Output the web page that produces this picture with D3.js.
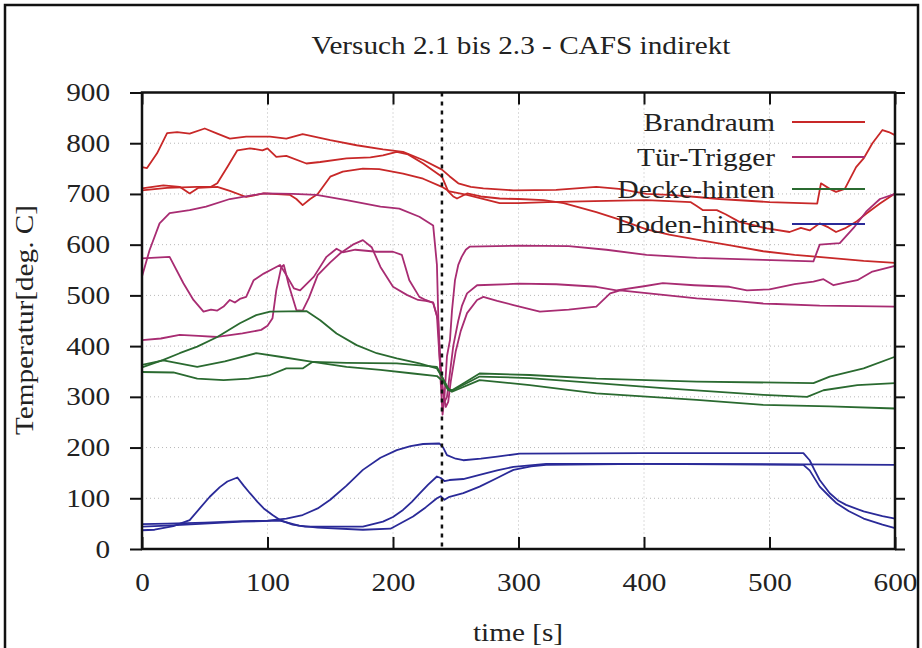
<!DOCTYPE html>
<html><head><meta charset="utf-8">
<script src="https://cdn.jsdelivr.net/npm/d3@7"></script>
<style>body{margin:0;background:#fff}svg{display:block}text{font-family:"Liberation Serif","DejaVu Serif",serif;fill:#222}</style>
</head><body><svg id="c" width="922" height="648"></svg>
<script>
const titleText = "Versuch 2.1 bis 2.3 - CAFS indirekt";
const xLabel = "time [s]";
const yLabel = "Temperatur[deg. C]";
const xTicks = [0,100,200,300,400,500,600];
const yTicks = [0,100,200,300,400,500,600,700,800,900];
const markerTime = 239;
const categories = ["Brandraum","Tür-Trigger","Decke-hinten","Boden-hinten"];

const brandraum1 = [[0,753],[4,751],[12,780],[20,820],[28,822],[38,819],[50,829],[60,819],[70,809],[83,813],[102,813],[115,809],[128,818],[150,806],[171,796],[192,788],[208,783],[224,767],[239,748],[245,735],[252,721],[262,714],[272,711],[296,707],[330,708],[362,714],[380,710],[402,700],[420,698],[442,694],[460,690],[500,684],[538,681],[541,721],[548,710],[553,704],[560,710],[569,753],[575,770],[582,800],[590,826],[595,822],[600,816]];
const brandraum2 = [[0,707],[20,712],[44,714],[55,714],[60,721],[68,753],[76,786],[86,790],[96,786],[100,790],[107,773],[115,775],[131,760],[142,763],[163,770],[182,772],[192,776],[203,783],[212,778],[224,760],[239,734],[244,705],[248,695],[251,691],[259,701],[270,695],[285,691],[300,690],[320,688],[336,682],[362,664],[380,650],[402,630],[420,620],[442,610],[470,598],[495,587],[520,580],[548,574],[575,568],[600,564]];
const brandraum3 = [[0,711],[17,717],[30,714],[38,701],[45,712],[60,714],[70,706],[83,694],[97,701],[118,698],[123,690],[128,678],[134,690],[140,700],[150,734],[160,744],[176,750],[189,749],[208,740],[224,730],[239,714],[245,705],[259,698],[285,682],[300,682],[323,684],[360,686],[402,688],[420,686],[437,684],[442,676],[447,668],[458,668],[465,660],[476,645],[498,632],[516,625],[525,633],[532,628],[540,642],[547,634],[553,625],[560,632],[569,645],[577,661],[588,681],[600,701]];

const tuer1 = [[0,537],[6,589],[14,642],[22,662],[38,668],[51,675],[70,690],[97,701],[120,700],[139,698],[163,688],[190,675],[205,671],[221,655],[232,638],[235,560],[236.5,420],[238,330],[239.5,265],[241,300],[243,380],[245.4,412],[247,470],[249.4,530],[252,560],[254.7,576],[258,590],[261,596],[300,598],[340,597],[370,590],[402,580],[442,574],[495,570],[535,567],[540,600],[556,603],[567,633],[577,665],[588,690],[600,700]];
const tuer2 = [[0,573],[22,576],[33,524],[41,491],[49,468],[55,472],[60,470],[65,478],[70,491],[74,486],[78,493],[83,497],[89,530],[97,543],[104,552],[110,560],[115,540],[121,514],[126,510],[137,537],[147,576],[155,592],[160,585],[170,590],[187,586],[200,586],[207,580],[213,530],[221,497],[226,491],[232,485],[235,460],[237,380],[239,320],[241,290],[243,300],[245,340],[248,400],[252,450],[255,480],[259,504],[267,520],[300,523],[330,522],[362,517],[378,510],[400,518],[415,524],[440,520],[468,517],[482,510],[500,512],[520,522],[535,527],[543,532],[551,520],[560,525],[570,530],[582,547],[600,558]];
const tuer3 = [[0,412],[15,415],[30,422],[45,420],[60,418],[80,425],[95,432],[100,440],[104,455],[107,510],[111,556],[113,560],[117,520],[123,471],[128,470],[133,495],[140,540],[150,565],[158,583],[168,600],[176,609],[183,595],[190,556],[200,517],[211,501],[220,491],[226,489],[232,486],[236,450],[238,360],[240,310],[242,280],[244,290],[246,330],[250,390],[254,430],[259,465],[267,491],[272,497],[276,494],[283,489],[296,481],[317,468],[340,472],[362,478],[373,504],[381,510],[400,505],[442,494],[476,488],[495,484],[540,480],[600,478]];

const decke1 = [[0,358],[17,373],[30,386],[44,399],[60,418],[78,445],[91,461],[102,468],[131,469],[142,451],[155,425],[171,402],[187,386],[203,376],[221,366],[235,356],[240,335],[244,315],[247,313],[255,325],[269,346],[309,343],[362,336],[442,330],[535,327],[548,340],[575,356],[600,379]];
const decke2 = [[0,363],[17,372],[44,359],[66,370],[91,386],[110,379],[136,369],[163,359],[190,353],[216,346],[235,341],[240,330],[244,313],[247,312],[269,340],[309,337],[362,327],[415,317],[495,304],[530,300],[543,313],[570,323],[600,327]];
const decke3 = [[0,349],[25,348],[44,336],[65,333],[85,336],[102,343],[115,356],[128,356],[136,369],[163,367],[203,366],[235,359],[240,335],[244,316],[247,310],[269,333],[309,323],[362,307],[442,294],[495,284],[548,281],[600,277]];

const boden1 = [[0,37],[10,38],[25,45],[38,57],[46,80],[54,103],[62,122],[68,133],[76,141],[81,125],[86,110],[92,93],[97,80],[104,67],[110,57],[120,48],[130,44],[150,44],[176,44],[192,54],[200,63],[208,77],[215,93],[221.5,110],[228,127],[235,143],[238,140],[241,134],[245,136],[256,138],[269,146],[283,155],[296,162],[322,168],[400,168],[527,166],[532,155],[540,123],[548,103],[553.5,90],[563,75],[575,60],[590,48],[600,41]];
const boden2 = [[0,49],[20,50],[50,52],[80,55],[100,56],[115,60],[128,67],[140,80],[150,97],[163,125],[176,156],[190,180],[203,195],[214,203],[224,207],[237,208],[240,200],[243,185],[250,178],[256,175],[270,178],[283,182],[301,188],[400,189],[527,189],[532,175],[536,155],[540,136],[548,110],[555,95],[561,87],[575,74],[590,65],[600,60]];
const boden3 = [[0,44],[20,46],[50,50],[80,54],[110,56],[125,46],[140,42],[176,38],[198,40],[216,64],[226,82],[235,100],[238,104],[241,97],[245,103],[256,110],[269,123],[283,140],[296,156],[310,163],[322,166],[400,168],[530,167],[600,166]];

const colors = ["#c82828","#a82c72","#2a6a30","#2a2a98"];
const seriesGroups = [[brandraum1,brandraum2,brandraum3],[tuer1,tuer2,tuer3],[decke1,decke2,decke3],[boden1,boden2,boden3]];

const svg = d3.select("#c");
const SX = 1.17;
const x = d3.scaleLinear().domain([0,600]).range([142,895]);
const y = d3.scaleLinear().domain([0,900]).range([549,92.5]);

svg.append("rect").attr("x",5).attr("y",5).attr("width",913).attr("height",670)
  .attr("fill","none").attr("stroke","#111").attr("stroke-width",2.5);

// grid
const grid = svg.append("g");
grid.selectAll(".gx").data(xTicks.slice(1,-1)).join("line")
  .attr("x1",d=>x(d)).attr("x2",d=>x(d)).attr("y1",y(900)).attr("y2",y(0))
  .attr("stroke","#b8b8b8").attr("stroke-width",1).attr("stroke-dasharray","1,3");
grid.selectAll(".gy").data(yTicks.slice(1,-1)).join("line")
  .attr("x1",x(0)).attr("x2",x(600)).attr("y1",d=>y(d)).attr("y2",d=>y(d))
  .attr("stroke","#b8b8b8").attr("stroke-width",1).attr("stroke-dasharray","1,3");

// lines
const line = d3.line().x(d=>x(d[0])).y(d=>y(d[1]));
seriesGroups.forEach((grp,i)=>{
  grp.forEach(s=>{
    svg.append("path").datum(s).attr("d",line).attr("fill","none")
      .attr("stroke",colors[i]).attr("stroke-width",1.8).attr("stroke-linejoin","round");
  });
});

// marker dashed line
svg.append("line").attr("x1",x(markerTime)).attr("x2",x(markerTime)).attr("y1",y(900)).attr("y2",y(0))
  .attr("stroke","#111").attr("stroke-width",2.5).attr("stroke-dasharray","4,5");

// axes
const fmt = d3.format("d");
const gB = svg.append("g").attr("transform",`translate(0,${y(0)})`)
  .call(d3.axisBottom(x).tickValues(xTicks).tickSize(-12).tickPadding(24).tickFormat(fmt));
const gT = svg.append("g").attr("transform",`translate(0,${y(900)})`)
  .call(d3.axisTop(x).tickValues(xTicks).tickSize(-12).tickFormat(""));
const gL = svg.append("g").attr("transform",`translate(${x(0)},0)`)
  .call(d3.axisLeft(y).tickValues(yTicks).tickSize(12).tickPadding(0).tickFormat(fmt));
const gR = svg.append("g").attr("transform",`translate(${x(600)},0)`)
  .call(d3.axisRight(y).tickValues(yTicks).tickSize(10).tickFormat(""));
[gB,gT,gL,gR].forEach(g=>{
  g.select(".domain").remove();
  g.selectAll(".tick line").attr("stroke","#111").attr("stroke-width",2);
  g.selectAll("text").attr("font-size",25).attr("font-family",null).attr("fill","#222");
});
gB.selectAll("text").attr("y",null).attr("dy",null).attr("transform",`translate(0,41.5) scale(${SX},1)`);
gL.selectAll("text").attr("x",null).attr("transform",`translate(-32,0) scale(${SX},1)`);

// frame
svg.append("rect").attr("x",x(0)).attr("y",y(900)).attr("width",x(600)-x(0)).attr("height",y(0)-y(900))
  .attr("fill","none").attr("stroke","#111").attr("stroke-width",2.5);

// titles
function stext(txt,px,py,size,anchor,rot){
  return svg.append("text").text(txt).attr("font-size",size).attr("text-anchor",anchor)
    .attr("transform",`translate(${px},${py})${rot?` rotate(${rot})`:""} scale(${SX},1)`);
}
stext(titleText,521,54,25,"middle");
stext(xLabel,518,641,25,"middle");
stext(yLabel,33,320,25,"middle",-90);

// legend
const legY = [122,157,189,224];
categories.forEach((c,i)=>{
  stext(c,775,legY[i]+9,25,"end");
  svg.append("line").attr("x1",792).attr("x2",865).attr("y1",legY[i]).attr("y2",legY[i])
    .attr("stroke",colors[i]).attr("stroke-width",1.8);
});
</script></body></html>
